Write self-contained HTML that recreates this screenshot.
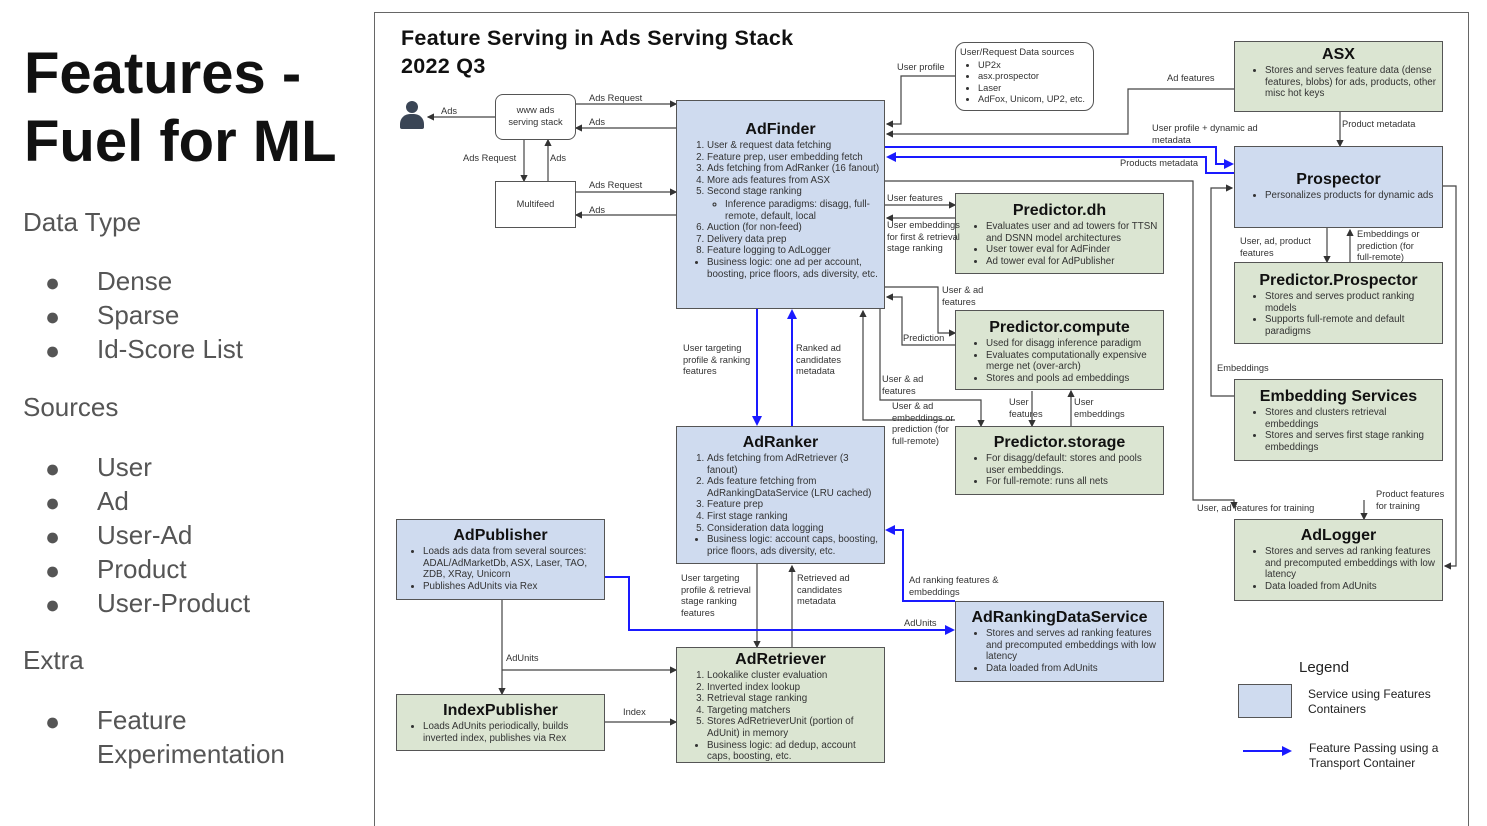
<!DOCTYPE html>
<html style="overflow:hidden;height:826px;width:1487px"><head><meta charset="utf-8"><style>
body{margin:0;width:1487px;height:826px;background:#fff;font-family:"Liberation Sans",sans-serif;position:relative;overflow:hidden;color:#222}
.a{position:absolute}
.b{position:absolute;border:1.5px solid #555;box-sizing:border-box;font-size:9.8px;line-height:11.6px;color:#333}
.bl{background:#cfdbef}.gr{background:#dbe5d2}
.b h{display:block;text-align:center;font-weight:bold;font-size:16px;line-height:18px;color:#111;margin-top:4px}
.b ul,.b ol{margin:1px 0 0 0;padding-left:30px;padding-right:4px}
.b li{margin:0}
.l{position:absolute;font-size:9.3px;line-height:11.5px;color:#333;white-space:nowrap}
</style></head><body>
<div class="a" style="left:24px;top:40px;font-size:58px;font-weight:bold;line-height:68px;color:#111">Features -<br>Fuel for ML</div>
<div class="a" style="left:23px;top:207px;font-size:26px;color:#555">Data Type</div>
<div class="a" style="left:23px;top:392px;font-size:26px;color:#555">Sources</div>
<div class="a" style="left:23px;top:645px;font-size:26px;color:#555">Extra</div>
<div class="a" style="left:45px;top:266px;font-size:25px;line-height:34px;color:#555">●<br>●<br>●</div>
<div class="a" style="left:97px;top:264px;font-size:26px;line-height:34px;color:#555">Dense<br>Sparse<br>Id-Score List</div>
<div class="a" style="left:45px;top:452px;font-size:25px;line-height:34px;color:#555">●<br>●<br>●<br>●<br>●</div>
<div class="a" style="left:97px;top:450px;font-size:26px;line-height:34px;color:#555">User<br>Ad<br>User-Ad<br>Product<br>User-Product</div>
<div class="a" style="left:45px;top:705px;font-size:25px;line-height:34px;color:#555">●</div>
<div class="a" style="left:97px;top:703px;font-size:26px;line-height:34px;color:#555">Feature<br>Experimentation</div>

<div class="a" style="left:374px;top:12px;width:1095px;height:820px;border:1.5px solid #666;box-sizing:border-box"></div>
<div class="a" style="left:401px;top:24px;font-size:21.5px;font-weight:bold;line-height:28px;color:#111;letter-spacing:0.3px">Feature Serving in Ads Serving Stack<br>2022 Q3</div>

<svg class="a" style="left:0;top:0" width="1487" height="826">
<defs>
<marker id="k" markerWidth="6" markerHeight="6" refX="5" refY="3" orient="auto"><path d="M0,0L6,3L0,6z" fill="#333"/></marker>
<marker id="u" markerWidth="5" markerHeight="5" refX="4" refY="2.5" orient="auto"><path d="M0,0L5,2.5L0,5z" fill="#1a1aff"/></marker>
</defs>
<g stroke="#444" stroke-width="1.2" fill="none" marker-end="url(#k)">
<path d="M495,117H428"/><path d="M576,104H676"/><path d="M676,128H576"/>
<path d="M524,140V181"/><path d="M548,181V140"/>
<path d="M576,192H676"/><path d="M676,215H576"/>
<path d="M955,76H901V124H887"/>
<path d="M1234,89H1128V134H887"/>
<path d="M1340,112V146"/>
<path d="M885,181H1193V500H1234V508"/>
<path d="M885,205H955"/><path d="M955,218H887"/>
<path d="M885,287H938V333H955"/>
<path d="M955,345H902V297H887"/>
<path d="M880,309V400H981V426"/>
<path d="M1071,426V391"/>
<path d="M1032,391V426"/>
<path d="M955,420H863V311"/>
<path d="M1327,228V262"/><path d="M1350,262V230"/>
<path d="M1234,396H1211V188H1232"/>
<path d="M1443,186H1456V566H1445"/>
<path d="M1364,500V519"/>
<path d="M502,600V694"/><path d="M502,670H676"/>
<path d="M605,722H676"/>
<path d="M757,564V647"/><path d="M792,647V566"/>
</g>
<g stroke="#1a1aff" stroke-width="2" fill="none" marker-end="url(#u)">
<path d="M885,147H1216V164H1232"/>
<path d="M1234,173H1206V157H888"/>
<path d="M757,309V424"/><path d="M792,426V311"/>
<path d="M955,601H903V530H887"/>
<path d="M605,577H629V630H953"/>
<path d="M1243,751H1290"/>
</g>
</svg>

<div class="b" style="left:495px;top:94px;width:81px;height:46px;border-radius:8px;background:#fff;text-align:center;padding-top:10px;font-size:9.3px">www ads<br>serving stack</div>
<div class="b" style="left:495px;top:181px;width:81px;height:47px;background:#fff;text-align:center;padding-top:17px;font-size:9.3px">Multifeed</div>
<div class="b" style="left:955px;top:42px;width:139px;height:69px;border-radius:10px;background:#fff;padding:4px 0 0 4px;font-size:9.3px;line-height:11.5px">User/Request Data sources<ul style="padding-left:18px"><li>UP2x</li><li>asx.prospector</li><li>Laser</li><li>AdFox, Unicom, UP2, etc.</li></ul></div>
<div class="a" style="left:400px;top:101px;width:24px;height:28px"><div class="a" style="left:6px;top:0;width:12px;height:12px;border-radius:50%;background:#3a4555"></div><div class="a" style="left:0;top:13px;width:24px;height:15px;border-radius:10px 10px 2px 2px;background:#3a4555"></div></div>

<div class="b bl" style="left:676px;top:100px;width:209px;height:209px"><h style="margin-top:20px">AdFinder</h><ol><li>User &amp; request data fetching</li><li>Feature prep, user embedding fetch</li><li>Ads fetching from AdRanker (16 fanout)</li><li>More ads features from ASX</li><li>Second stage ranking<ul style="list-style:circle;padding-left:18px"><li>Inference paradigms: disagg, full-remote, default, local</li></ul></li><li>Auction (for non-feed)</li><li>Delivery data prep</li><li>Feature logging to AdLogger</li><li style="list-style:disc">Business logic: one ad per account, boosting, price floors, ads diversity, etc.</li></ol></div>
<div class="b gr" style="left:1234px;top:41px;width:209px;height:71px"><h>ASX</h><ul><li>Stores and serves feature data (dense features, blobs) for ads, products, other misc hot keys</li></ul></div>
<div class="b bl" style="left:1234px;top:146px;width:209px;height:82px"><h style="margin-top:24px">Prospector</h><ul><li>Personalizes products for dynamic ads</li></ul></div>
<div class="b gr" style="left:955px;top:193px;width:209px;height:81px"><h style="margin-top:8px">Predictor.dh</h><ul><li>Evaluates user and ad towers for TTSN and DSNN model architectures</li><li>User tower eval for AdFinder</li><li>Ad tower eval for AdPublisher</li></ul></div>
<div class="b gr" style="left:1234px;top:262px;width:209px;height:82px"><h style="margin-top:9px">Predictor.Prospector</h><ul><li>Stores and serves product ranking models</li><li>Supports full-remote and default paradigms</li></ul></div>
<div class="b gr" style="left:955px;top:310px;width:209px;height:80px"><h style="margin-top:8px">Predictor.compute</h><ul><li>Used for disagg inference paradigm</li><li>Evaluates computationally expensive merge net (over-arch)</li><li>Stores and pools ad embeddings</li></ul></div>
<div class="b gr" style="left:1234px;top:379px;width:209px;height:82px"><h style="margin-top:8px">Embedding Services</h><ul><li>Stores and clusters retrieval embeddings</li><li>Stores and serves first stage ranking embeddings</li></ul></div>
<div class="b gr" style="left:955px;top:426px;width:209px;height:69px"><h style="margin-top:7px">Predictor.storage</h><ul><li>For disagg/default: stores and pools user embeddings.</li><li>For full-remote: runs all nets</li></ul></div>
<div class="b bl" style="left:676px;top:426px;width:209px;height:138px"><h style="margin-top:7px">AdRanker</h><ol><li>Ads fetching from AdRetriever (3 fanout)</li><li>Ads feature fetching from AdRankingDataService (LRU cached)</li><li>Feature prep</li><li>First stage ranking</li><li>Consideration data logging</li><li style="list-style:disc">Business logic: account caps, boosting, price floors, ads diversity, etc.</li></ol></div>
<div class="b bl" style="left:396px;top:519px;width:209px;height:81px"><h style="margin-top:7px">AdPublisher</h><ul style="padding-left:26px"><li>Loads ads data from several sources: ADAL/AdMarketDb, ASX, Laser, TAO, ZDB, XRay, Unicorn</li><li>Publishes AdUnits via Rex</li></ul></div>
<div class="b gr" style="left:1234px;top:519px;width:209px;height:82px"><h style="margin-top:7px">AdLogger</h><ul><li>Stores and serves ad ranking features and precomputed embeddings with low latency</li><li>Data loaded from AdUnits</li></ul></div>
<div class="b bl" style="left:955px;top:601px;width:209px;height:81px"><h style="margin-top:7px">AdRankingDataService</h><ul><li>Stores and serves ad ranking features and precomputed embeddings with low latency</li><li>Data loaded from AdUnits</li></ul></div>
<div class="b gr" style="left:676px;top:647px;width:209px;height:116px"><h style="margin-top:3px">AdRetriever</h><ol><li>Lookalike cluster evaluation</li><li>Inverted index lookup</li><li>Retrieval stage ranking</li><li>Targeting matchers</li><li>Stores AdRetrieverUnit (portion of AdUnit) in memory</li><li style="list-style:disc">Business logic: ad dedup, account caps, boosting, etc.</li></ol></div>
<div class="b gr" style="left:396px;top:694px;width:209px;height:57px"><h style="margin-top:7px">IndexPublisher</h><ul style="padding-left:26px"><li>Loads AdUnits periodically, builds inverted index, publishes via Rex</li></ul></div>

<div class="a" style="left:1299px;top:659px;font-size:15px;color:#222">Legend</div>
<div class="a" style="left:1238px;top:684px;width:54px;height:34px;background:#cfdbef;border:1.5px solid #555;box-sizing:border-box"></div>
<div class="a" style="left:1308px;top:687px;font-size:12px;line-height:15px">Service using Features<br>Containers</div>
<div class="a" style="left:1309px;top:741px;font-size:12px;line-height:15px">Feature Passing using a<br>Transport Container</div>

<div class="l" style="left:441px;top:106px">Ads</div>
<div class="l" style="left:589px;top:93px">Ads Request</div>
<div class="l" style="left:589px;top:117px">Ads</div>
<div class="l" style="left:463px;top:153px">Ads Request</div>
<div class="l" style="left:550px;top:153px">Ads</div>
<div class="l" style="left:589px;top:180px">Ads Request</div>
<div class="l" style="left:589px;top:205px">Ads</div>
<div class="l" style="left:897px;top:62px">User profile</div>
<div class="l" style="left:1167px;top:73px">Ad features</div>
<div class="l" style="left:1152px;top:123px">User profile + dynamic ad<br>metadata</div>
<div class="l" style="left:1120px;top:158px">Products metadata</div>
<div class="l" style="left:1342px;top:119px">Product metadata</div>
<div class="l" style="left:887px;top:193px">User features</div>
<div class="l" style="left:887px;top:220px">User embeddings<br>for first &amp; retrieval<br>stage ranking</div>
<div class="l" style="left:942px;top:285px">User &amp; ad<br>features</div>
<div class="l" style="left:903px;top:333px">Prediction</div>
<div class="l" style="left:882px;top:374px">User &amp; ad<br>features</div>
<div class="l" style="left:892px;top:401px">User &amp; ad<br>embeddings or<br>prediction (for<br>full-remote)</div>
<div class="l" style="left:1009px;top:397px">User<br>features</div>
<div class="l" style="left:1074px;top:397px">User<br>embeddings</div>
<div class="l" style="left:1240px;top:236px">User, ad, product<br>features</div>
<div class="l" style="left:1357px;top:229px">Embeddings or<br>prediction (for<br>full-remote)</div>
<div class="l" style="left:1217px;top:363px">Embeddings</div>
<div class="l" style="left:683px;top:343px">User targeting<br>profile &amp; ranking<br>features</div>
<div class="l" style="left:796px;top:343px">Ranked ad<br>candidates<br>metadata</div>
<div class="l" style="left:1197px;top:503px">User, ad features for training</div>
<div class="l" style="left:1376px;top:489px">Product features<br>for training</div>
<div class="l" style="left:909px;top:575px">Ad ranking features &amp;<br>embeddings</div>
<div class="l" style="left:904px;top:618px">AdUnits</div>
<div class="l" style="left:681px;top:573px">User targeting<br>profile &amp; retrieval<br>stage ranking<br>features</div>
<div class="l" style="left:797px;top:573px">Retrieved ad<br>candidates<br>metadata</div>
<div class="l" style="left:506px;top:653px">AdUnits</div>
<div class="l" style="left:623px;top:707px">Index</div>
</body></html>
